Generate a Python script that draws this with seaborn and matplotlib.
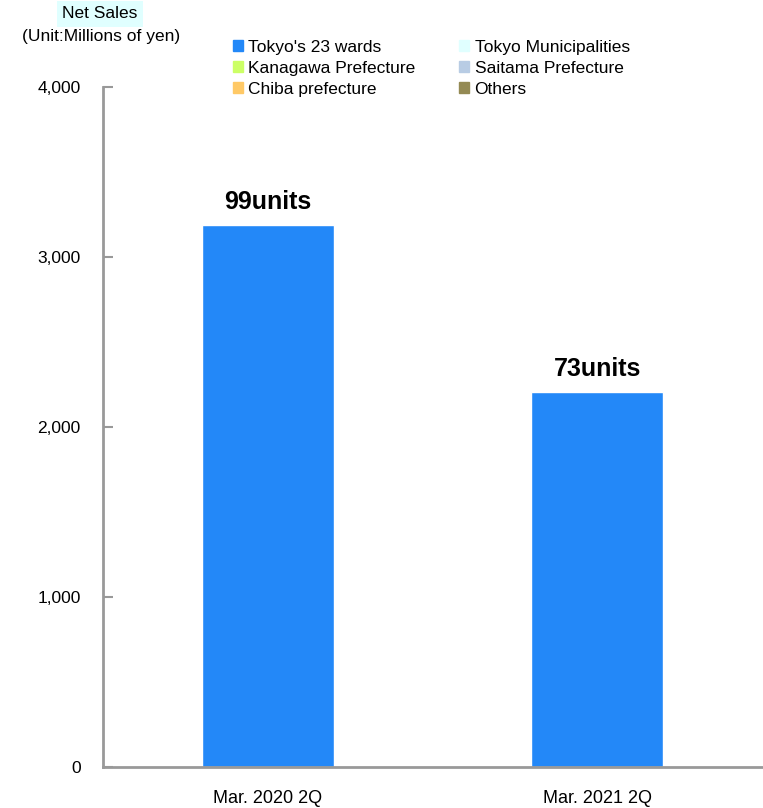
import matplotlib
matplotlib.use("Agg")
import matplotlib.pyplot as plt
import matplotlib.patches as mpatches
import seaborn as sns
import pandas as pd

periods = ["Mar. 2020 2Q", "Mar. 2021 2Q"]
net_sales = [3188, 2206]
unit_labels = ["99units", "73units"]
legend_names = ["Tokyo's 23 wards", "Tokyo Municipalities", "Kanagawa Prefecture",
                "Saitama Prefecture", "Chiba prefecture", "Others"]
legend_colors = ["#2388F8", "#E0FFFF", "#CCFF66", "#B8CCE4", "#FFC966", "#948A54"]
y_ticks = [0, 1000, 2000, 3000, 4000]

sns.set_style("white")
plt.rcParams['font.family'] = ['Liberation Sans', 'DejaVu Sans']
plt.rcParams['text.color'] = 'black'
plt.rcParams['xtick.color'] = 'black'
plt.rcParams['ytick.color'] = 'black'

df = pd.DataFrame({"period": periods, "sales": net_sales})

fig = plt.figure(figsize=(7.63, 8.08), dpi=100)
ax = fig.add_axes([103 / 763, 1 - 767 / 808, 659 / 763, 680 / 808])
sns.barplot(data=df, x="period", y="sales", color=legend_colors[0], width=0.4,
            saturation=1, ax=ax)

ax.set_xlim(-0.5, 1.5)
ax.set_ylim(0, 4000)
ax.set_yticks(y_ticks)
ax.set_yticklabels([f"{v:,}" for v in y_ticks], fontsize=12.5)
ax.tick_params(axis="y", direction="in", length=7, width=1.5, color="#999999",
               labelcolor="black", left=True, pad=16)
ax.tick_params(axis="x", bottom=False, labelsize=13, labelcolor="black", pad=13)
ax.set_xlabel("")
ax.set_ylabel("")
for s in ["top", "right"]:
    ax.spines[s].set_visible(False)
for s in ["left", "bottom"]:
    ax.spines[s].set_color("#999999")
    ax.spines[s].set_linewidth(2)

for i, (v, lab) in enumerate(zip(net_sales, unit_labels)):
    ax.text(i, v + 65, lab, ha="center", va="bottom", fontsize=18, fontweight="bold",
            color="black")

# legend is filled row by row in the reference
order = [0, 2, 4, 1, 3, 5]
handles = [mpatches.Patch(color=legend_colors[k], label=legend_names[k]) for k in order]
fig.legend(handles=handles, ncol=2, loc="upper left", bbox_to_anchor=(217 / 763, 1 - 24 / 808),
           frameon=False, fontsize=12.5, handlelength=0.6, handleheight=0.6,
           handletextpad=0.3, labelspacing=0.35, columnspacing=2.5)

fig.text(100 / 763, 1 - 14 / 808, "Net Sales", ha="center", va="center", fontsize=12.5,
         bbox=dict(boxstyle="square,pad=0.3", facecolor="#E0FFFF", edgecolor="none"))
fig.text(101 / 763, 1 - 36 / 808, "(Unit:Millions of yen)", ha="center", va="center",
         fontsize=12.5)

fig.savefig("out.png", dpi=100)
